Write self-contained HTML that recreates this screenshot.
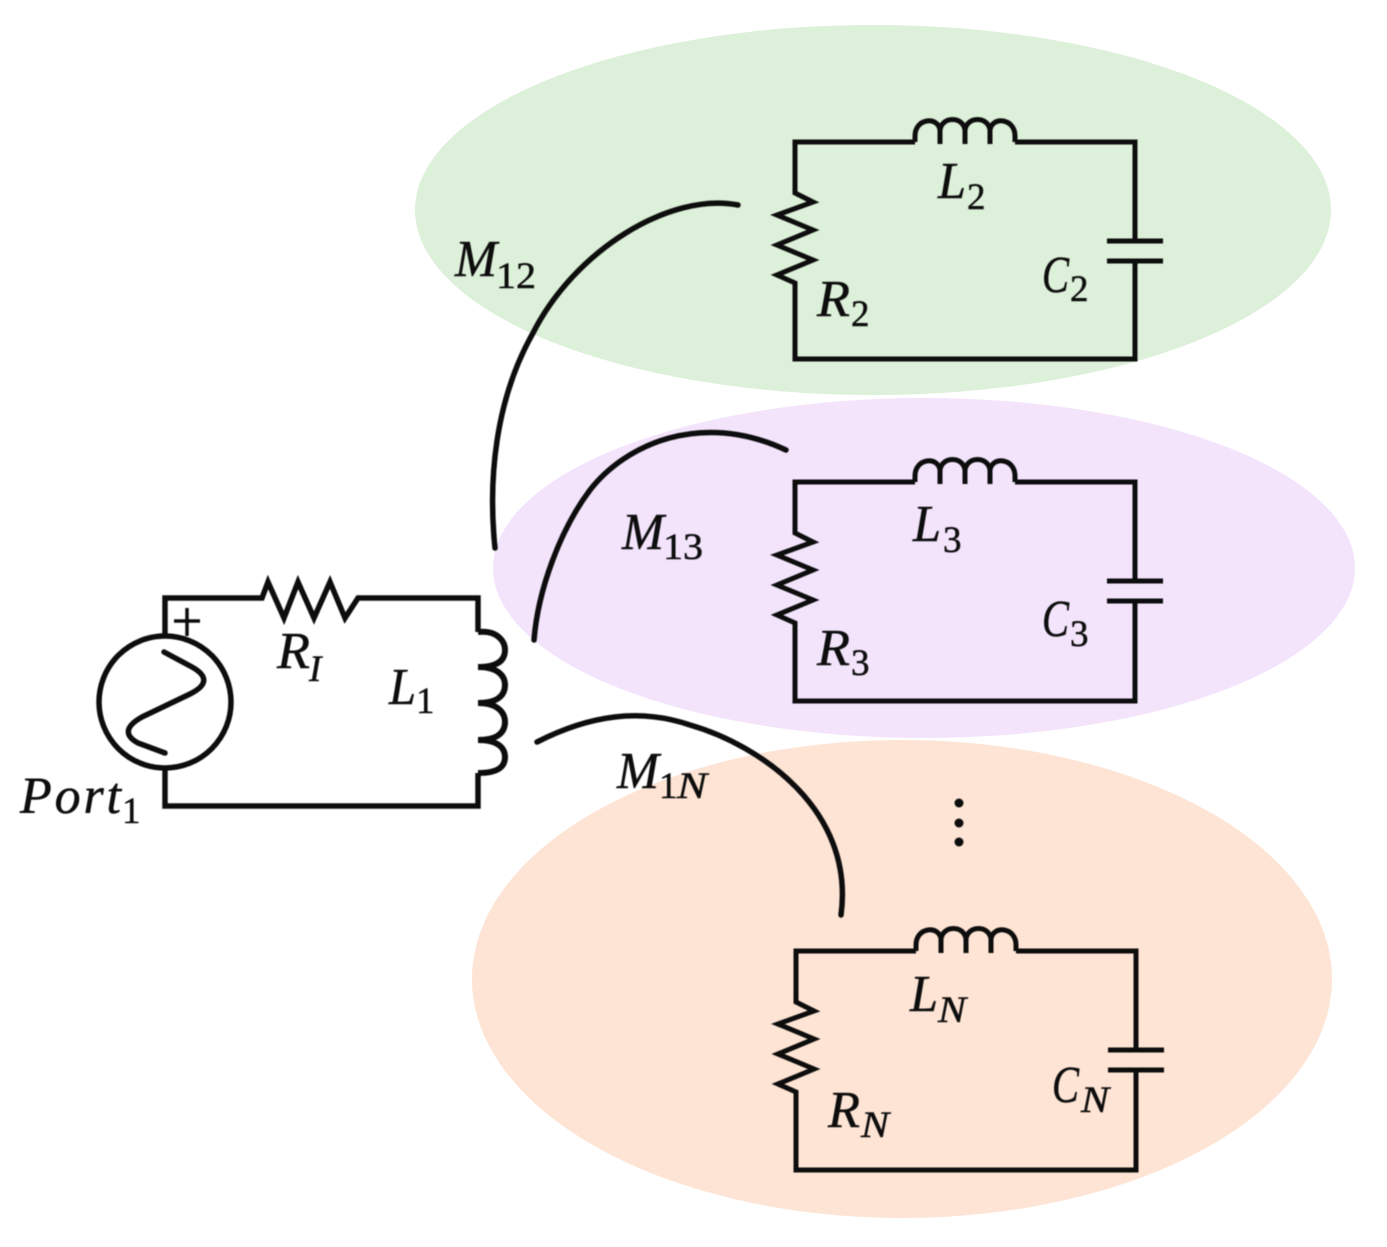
<!DOCTYPE html>
<html>
<head>
<meta charset="utf-8">
<style>
html,body{margin:0;padding:0;background:#fff;}
svg{display:block;}
text{font-family:"Liberation Serif",serif;fill:#111;stroke:#111;stroke-width:0.5;}
.m{font-style:italic;font-size:52px;}
.s{font-size:37px;}
.n{font-style:italic;font-size:37px;}
</style>
</head>
<body>
<svg width="1387" height="1247" viewBox="0 0 1387 1247" xmlns="http://www.w3.org/2000/svg">
<defs>
<filter id="b" x="-5%" y="-5%" width="110%" height="110%"><feGaussianBlur stdDeviation="0.6"/></filter>
<g id="c" fill="none" stroke="#111" stroke-width="5">
<path d="M915 142H795V193L813 202L777 215L813 230L777 245L813 260L777 275L795 283V300"/>
<path d="M1135 241V142H1015"/>
<path d="M915 142V136C915 118 938 116 940 130V144M940 130C942 116 963 116 965 130V144M965 130C967 116 988 116 990 130V144M990 130C992 116 1015 118 1015 136V142"/>
<path d="M1107 241H1163M1107 261H1163"/>
</g>
</defs>
<rect width="1387" height="1247" fill="#fff"/>
<ellipse cx="873" cy="210" rx="458" ry="185" fill="#ddf0d9"/>
<ellipse cx="924" cy="568" rx="431" ry="170" fill="#f3e4fc"/>
<ellipse cx="902" cy="979" rx="430" ry="239" fill="#fee4d4"/>
<g filter="url(#b)">
<use href="#c"/>
<use href="#c" y="340"/>
<use href="#c" x="1" y="809"/>
<g fill="none" stroke="#111" stroke-width="5">
<path d="M795 298V359H1135V261"/>
<path d="M795 638V701H1135V601"/>
<path d="M796 1107V1170H1136V1070"/>
</g>

<g fill="none" stroke="#111" stroke-width="5.5">
<path d="M165 636V598H262L268 582L284 618L298 582L314 618L330 582L345 618L358 598H478V632"/>
<path d="M165 768V806H478V773"/>
<circle cx="165" cy="702" r="66"/>
<path d="M164 652L192 667C208 676 208 685 190 694L142 717C124 727 125 736 138 743L165 753" stroke-linecap="round"/>
<path d="M478 632C498 630 505 642 505 650C505 660 498 667 478 667M478 667C498 667 505 676 505 685C505 695 498 703 478 703M478 703C498 703 505 713 505 722C505 732 498 740 478 740M478 740C498 740 505 748 505 757C505 767 498 773 478 773" stroke-width="6"/>
<path d="M174 621H200M187 608V636" stroke-width="3.5"/>
<path d="M495 548C488 480 495 400 533 333C575 250 670 192 738 205" stroke-linecap="round"/>
<path d="M534 640C538 590 560 530 590 490C625 445 700 410 786 450" stroke-linecap="round"/>
<path d="M537 742C590 715 640 708 690 725C760 745 855 810 841 915" stroke-linecap="round"/>
</g>
<circle cx="959" cy="803" r="4.5" fill="#111"/>
<circle cx="959" cy="823" r="4.5" fill="#111"/>
<circle cx="959" cy="842" r="4.5" fill="#111"/>

<text class="m" x="455" y="276" textLength="42" lengthAdjust="spacingAndGlyphs">M</text>
<text class="s" x="496" y="288" textLength="40" lengthAdjust="spacingAndGlyphs">12</text>
<text class="m" x="938" y="198" textLength="28" lengthAdjust="spacingAndGlyphs">L</text>
<text class="s" x="967" y="209">2</text>
<text class="m" x="817" y="316" textLength="33" lengthAdjust="spacingAndGlyphs">R</text>
<text class="s" x="851" y="326">2</text>
<text class="m" x="1042" y="292" textLength="27" lengthAdjust="spacingAndGlyphs">C</text>
<text class="s" x="1070" y="301">2</text>

<text class="m" x="622" y="549" textLength="42" lengthAdjust="spacingAndGlyphs">M</text>
<text class="s" x="663" y="559" textLength="40" lengthAdjust="spacingAndGlyphs">13</text>
<text class="m" x="913" y="541" textLength="28" lengthAdjust="spacingAndGlyphs">L</text>
<text class="s" x="943" y="552">3</text>
<text class="m" x="817" y="665" textLength="33" lengthAdjust="spacingAndGlyphs">R</text>
<text class="s" x="851" y="675">3</text>
<text class="m" x="1042" y="636" textLength="27" lengthAdjust="spacingAndGlyphs">C</text>
<text class="s" x="1070" y="646">3</text>

<text class="m" x="617" y="788" textLength="42" lengthAdjust="spacingAndGlyphs">M</text>
<text class="s" x="659" y="798">1</text>
<text class="n" x="677" y="798" textLength="30" lengthAdjust="spacingAndGlyphs">N</text>
<text class="m" x="910" y="1011" textLength="28" lengthAdjust="spacingAndGlyphs">L</text>
<text class="n" x="938" y="1022" textLength="28" lengthAdjust="spacingAndGlyphs">N</text>
<text class="m" x="828" y="1127" textLength="32" lengthAdjust="spacingAndGlyphs">R</text>
<text class="n" x="861" y="1137" textLength="28" lengthAdjust="spacingAndGlyphs">N</text>
<text class="m" x="1052" y="1102" textLength="27" lengthAdjust="spacingAndGlyphs">C</text>
<text class="n" x="1081" y="1112" textLength="28" lengthAdjust="spacingAndGlyphs">N</text>

<text class="m" x="277" y="668" textLength="33" lengthAdjust="spacingAndGlyphs">R</text>
<text class="n" x="309" y="681">I</text>
<text class="m" x="389" y="704" textLength="27" lengthAdjust="spacingAndGlyphs">L</text>
<text class="s" x="416" y="713">1</text>
<text class="m" x="20" y="813" textLength="101" lengthAdjust="spacing">Port</text>
<text class="s" x="122" y="823">1</text>
</g>
</svg>
</body>
</html>
